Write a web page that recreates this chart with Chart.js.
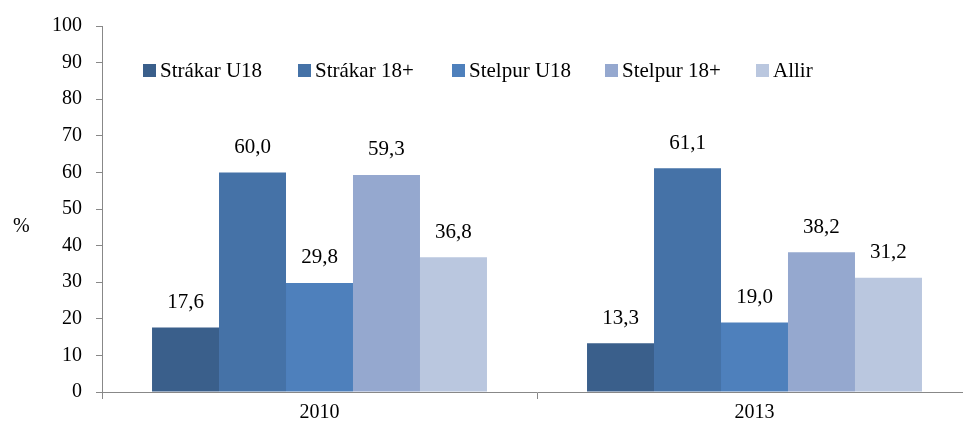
<!DOCTYPE html>
<html>
<head>
<meta charset="utf-8">
<script src="https://cdn.jsdelivr.net/npm/chart.js@4.4.1/dist/chart.umd.min.js"></script>
<style>
  html, body { margin: 0; padding: 0; background: #fff; overflow: hidden; }
  #wrap { width: 972px; height: 426px; position: relative; }
</style>
</head>
<body>
<div id="wrap"><canvas id="barChart"></canvas></div>
<script>
// Data
const years = ['2010', '2013'];
const seriesNames = ['Strákar U18', 'Strákar 18+', 'Stelpur U18', 'Stelpur 18+', 'Allir'];
const strakarU18 = [17.6, 13.3];
const strakar18 = [60.0, 61.1];
const stelpurU18 = [29.8, 19.0];
const stelpur18 = [59.3, 38.2];
const allir = [36.8, 31.2];
const yTicks = [0, 10, 20, 30, 40, 50, 60, 70, 80, 90, 100];

const seriesColors = ['#3A5F8B', '#4572A7', '#4E80BC', '#95A8CF', '#BAC7DF'];
const serif = '"Liberation Serif", "Times New Roman", serif';

// Value labels above each bar, with decimal comma
const valueLabels = {
    id: 'valueLabels',
    afterDatasetsDraw(chart) {
        const ctx = chart.ctx;
        ctx.save();
        ctx.font = '21px ' + serif;
        ctx.fillStyle = '#000';
        ctx.textAlign = 'center';
        ctx.textBaseline = 'middle';
        chart.data.datasets.forEach(function(ds, i) {
            chart.getDatasetMeta(i).data.forEach(function(bar, j) {
                ctx.fillText(ds.data[j].toFixed(1).replace('.', ','), bar.x, bar.y - 25);
            });
        });
        ctx.restore();
    }
};

// Legend inside the plot area plus the "%" axis label
const innerLegend = {
    id: 'innerLegend',
    afterDraw(chart) {
        const ctx = chart.ctx;
        const startX = [143, 298, 452, 605, 756];
        ctx.save();
        ctx.font = '21px ' + serif;
        ctx.textBaseline = 'middle';
        chart.data.datasets.forEach(function(ds, i) {
            ctx.fillStyle = ds.backgroundColor;
            ctx.fillRect(startX[i], 64, 13, 13);
            ctx.fillStyle = '#000';
            ctx.fillText(ds.label, startX[i] + 17, 71);
        });
        ctx.font = '20px ' + serif;
        ctx.fillText('%', 13, 227);
        ctx.restore();
    }
};

const seriesData = [strakarU18, strakar18, stelpurU18, stelpur18, allir];

new Chart(document.getElementById('barChart').getContext('2d'), {
    type: 'bar',
    data: {
        labels: years,
        datasets: seriesNames.map(function(name, i) {
            return {
                label: name,
                data: seriesData[i],
                backgroundColor: seriesColors[i],
                borderWidth: 0,
                categoryPercentage: 0.77,
                barPercentage: 1.0
            };
        })
    },
    options: {
        responsive: true,
        maintainAspectRatio: false,
        animation: false,
        layout: { padding: { top: 23, right: 0, left: 0, bottom: 0 } },
        plugins: {
            legend: { display: false },
            tooltip: { enabled: false }
        },
        scales: {
            x: {
                afterFit: function(scale) { scale.height = 34; },
                grid: {
                    display: true,
                    drawOnChartArea: false,
                    offset: true,
                    tickLength: 7,
                    color: '#888'
                },
                border: { color: '#888', width: 1 },
                ticks: {
                    color: '#000',
                    font: { family: serif, size: 20 },
                    padding: 2
                }
            },
            y: {
                min: 0,
                max: 100,
                afterFit: function(scale) { scale.width = 102; },
                afterBuildTicks: function(scale) {
                    scale.ticks = yTicks.map(function(v) { return { value: v }; });
                },
                grid: {
                    display: true,
                    drawOnChartArea: false,
                    tickLength: 6,
                    color: '#888'
                },
                border: { color: '#888', width: 1 },
                ticks: {
                    color: '#000',
                    font: { family: serif, size: 20 },
                    padding: 14
                }
            }
        }
    },
    plugins: [valueLabels, innerLegend]
});
</script>
</body>
</html>
